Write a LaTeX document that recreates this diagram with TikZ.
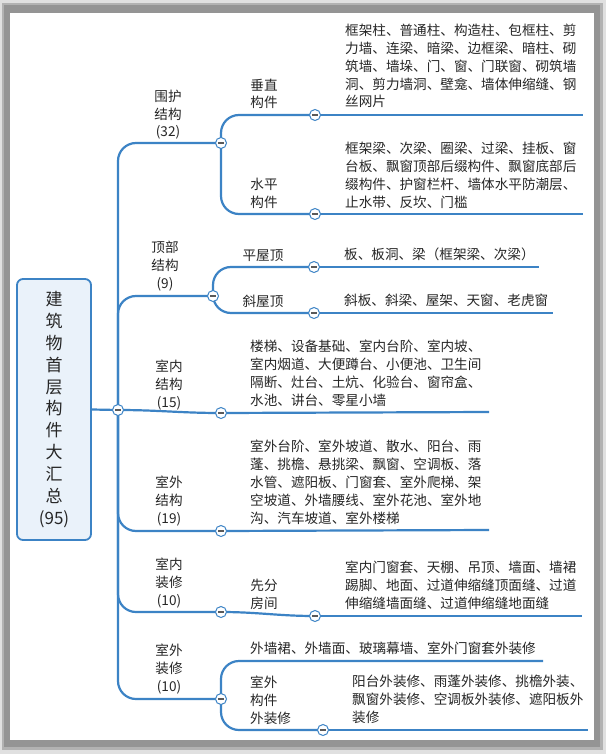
\documentclass[tikz,border=0pt]{standalone}
\usepackage{fontspec}
\setmainfont{Noto Sans CJK SC}
\definecolor{lnk}{HTML}{3C83C5}
\definecolor{rootfill}{HTML}{EAF2FA}
\begin{document}
\begin{tikzpicture}[x=1pt,y=-1pt,
  link/.style={draw=lnk,line width=2.2pt},
  tog/.style={circle,draw=lnk,fill=white,line width=1pt,minimum size=11pt,inner sep=0pt,
    path picture={\draw[line width=1.3pt,black!65] ([xshift=-2.6pt]path picture bounding box.center) -- ([xshift=2.6pt]path picture bounding box.center);}},
  txt/.style={font=\fontsize{13.6}{17.8}\selectfont,inner sep=0pt,text=black!85},
  cat/.style={txt,align=center,anchor=base},
  leaf/.style={txt,align=left,anchor=base west},
  rootbox/.style={draw=lnk,fill=rootfill,line width=1.8pt,rounded corners=6pt,
    minimum width=74pt,minimum height=261pt,align=center,inner sep=0pt,
    font=\fontsize{17}{21.9}\selectfont,text=black!85}
]
\useasboundingbox (0,0) rectangle (606,754);
% frame
\fill[black!12] (0,0) rectangle (606,754);
\fill[black!30] (2,3) rectangle (603,750);
\fill[black!42] (4,5) rectangle (600,747);
\fill[white] (10,13) rectangle (594,740);

% root
\node[rootbox] (root) at (54,409.5) {建\\筑\\物\\首\\层\\构\\件\\大\\汇\\总\\(95)};

% coordinates
\coordinate (c0) at (118,410);
\coordinate (c1) at (221,143);
\coordinate (c11) at (315,115);
\coordinate (e11) at (583,115);
\coordinate (c12) at (315,214);
\coordinate (e12) at (583,214);
\coordinate (c2) at (213,296);
\coordinate (c21) at (314,267);
\coordinate (e21) at (539,267);
\coordinate (c22) at (314,313);
\coordinate (e22) at (553,313);
\coordinate (c3) at (221,413);
\coordinate (e3) at (489,412);
\coordinate (c4) at (221,531);
\coordinate (e4) at (489,530);
\coordinate (c5) at (221,612);
\coordinate (c51) at (315,616);
\coordinate (e51) at (582,616);
\coordinate (c6) at (221,699);
\coordinate (e61) at (543,661);
\coordinate (c62) at (323,730);
\coordinate (e62) at (588,730);

% connectors
\draw[link] (root.east) -- (c0);
\begin{scope}[rounded corners=18pt]
\draw[link] (c0) |- (c1);
\draw[link] (c0) |- (c2);
\draw[link] (c0) |- (c4);
\draw[link] (c0) |- (c5);
\draw[link] (c0) |- (c6);
\draw[link] (c1) |- (c11);
\draw[link] (c1) |- (c12);
\draw[link] (c2) |- (c21);
\draw[link] (c2) |- (c22);
\draw[link] (c6) |- (e61);
\draw[link] (c6) |- (c62);
\end{scope}
\draw[link] (c0) to[out=0,in=180] (c3);
\draw[link] (c5) to[out=0,in=180] (c51);
\draw[link] (c11) -- (e11);
\draw[link] (c12) -- (e12);
\draw[link] (c21) -- (e21);
\draw[link] (c22) -- (e22);
\draw[link] (c3) -- (e3);
\draw[link] (c4) -- (e4);
\draw[link] (c51) -- (e51);
\draw[link] (c62) -- (e62);

% toggles
\foreach \c in {c0,c1,c11,c12,c2,c21,c22,c3,c4,c5,c51,c6,c62}
  \node[tog] (t\c) at (\c) {};

% category labels (anchor = baseline of last line)
\node[cat] (l1) at (168,137) {围护\\结构\\(32)};
\node[cat] (l11) at (264,108) {垂直\\构件};
\node[cat] (l12) at (264,207) {水平\\构件};
\node[cat] (l2) at (165,288) {顶部\\结构\\(9)};
\node[cat] (l21) at (263,260) {平屋顶};
\node[cat] (l22) at (263,306) {斜屋顶};
\node[cat] (l3) at (169,407) {室内\\结构\\(15)};
\node[cat] (l4) at (169,523) {室外\\结构\\(19)};
\node[cat] (l5) at (169,605) {室内\\装修\\(10)};
\node[cat] (l51) at (264,608) {先分\\房间};
\node[cat] (l6) at (169,691) {室外\\装修\\(10)};
\node[leaf] (l62) at (250,723) {室外\\构件\\外装修};

% leaves
\node[leaf] (f11) at (345,107) {框架柱、普通柱、构造柱、包框柱、剪\\力墙、连梁、暗梁、边框梁、暗柱、砌\\筑墙、墙垛、门、窗、门联窗、砌筑墙\\洞、剪力墙洞、壁龛、墙体伸缩缝、钢\\丝网片};
\node[leaf] (f12) at (345,207) {框架梁、次梁、圈梁、过梁、挂板、窗\\台板、飘窗顶部后缀构件、飘窗底部后\\缀构件、护窗栏杆、墙体水平防潮层、\\止水带、反坎、门槛};
\node[leaf] (f21) at (344,259) {板、板洞、梁（框架梁、次梁）};
\node[leaf] (f22) at (344,305) {斜板、斜梁、屋架、天窗、老虎窗};
\node[leaf] (f3) at (250,405) {楼梯、设备基础、室内台阶、室内坡、\\室内烟道、大便蹲台、小便池、卫生间\\隔断、灶台、土炕、化验台、窗帘盒、\\水池、讲台、零星小墙};
\node[leaf] (f4) at (250,523) {室外台阶、室外坡道、散水、阳台、雨\\蓬、挑檐、悬挑梁、飘窗、空调板、落\\水管、遮阳板、门窗套、室外爬梯、架\\空坡道、外墙腰线、室外花池、室外地\\沟、汽车坡道、室外楼梯};
\node[leaf] (f51) at (345,608) {室内门窗套、天棚、吊顶、墙面、墙裙\\踢脚、地面、过道伸缩缝顶面缝、过道\\伸缩缝墙面缝、过道伸缩缝地面缝};
\node[leaf] (f61) at (250,653) {外墙裙、外墙面、玻璃幕墙、室外门窗套外装修};
\node[leaf] (f62) at (352,722) {阳台外装修、雨蓬外装修、挑檐外装、\\飘窗外装修、空调板外装修、遮阳板外\\装修};
\end{tikzpicture}
\end{document}
